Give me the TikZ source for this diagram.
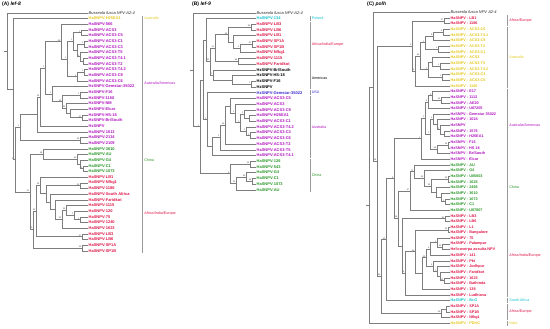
\documentclass[tikz,border=0pt]{standalone}
\usepackage{fontspec}
\setmainfont{Liberation Sans}
\usepackage{tikz}
\usetikzlibrary{calc}
\definecolor{ausY}{RGB}{228,200,30}
\definecolor{amP}{RGB}{176,20,190}
\definecolor{chnG}{RGB}{40,150,40}
\definecolor{afrR}{RGB}{222,22,72}
\definecolor{polC}{RGB}{20,195,205}
\definecolor{usaB}{RGB}{55,40,205}
\definecolor{treeG}{RGB}{125,125,125}

\tikzset{
  branch/.style={draw=treeG, line width=0.35pt},
  leaf/.style={anchor=west, inner sep=0.5pt, font=\fontsize{4}{4}\selectfont\bfseries},
  leafc/.style={leaf, font=\fontsize{3.8}{4}\selectfont\bfseries},
  outgroup/.style={anchor=west, inner sep=0.5pt, font=\fontsize{4}{4}\selectfont\itshape, text=black!85},
  boot/.style={anchor=south east, inner sep=0.2pt, xshift=-0.3pt, font=\fontsize{2.2}{2.2}\selectfont, text=black!70},
  region/.style={anchor=west, inner sep=0pt, font=\fontsize{3.7}{4}\selectfont},
  bracket/.style={draw=black!40, line width=0.35pt},
  paneltitle/.style={anchor=west, inner sep=0pt, font=\fontsize{5}{5}\selectfont\bfseries}
}

% clade: name, x, first child, second child, support value
\newcommand{\treeclade}[5]{%
  \coordinate (#1m) at ($(#3)!.5!(#4)$);
  \coordinate (#1) at (#2,0 |- #1m);
  \draw[branch] (#1) |- (#3) (#1) |- (#4);
  \node[boot] (#1b) at (#1) {#5};}

% region bar: name, x, first row, last row, text, colour
\newcommand{\treeregion}[6]{%
  \coordinate (#1t) at (#2,{#3-0.45});
  \coordinate (#1u) at (#2,{#4+0.45});
  \draw[bracket] (#1t) -- (#1u);
  \node[region, text=#6] (#1) at ({#2+1.6},{(#3+#4)/2}) {#5};}

\begin{document}
\begin{tikzpicture}[x=1pt, y=-1pt]
\useasboundingbox (0,0) rectangle (550,329);

\node[paneltitle] (titleA) at (2,4.5) {(A) \textit{lef-8}};
\node[paneltitle] (titleB) at (192,4.5) {(B) \textit{lef-9}};
\node[paneltitle] (titleC) at (367,4.5) {(C) \textit{polh}};

% ---------------- (A) lef-8
\begin{scope}[yshift=-12.7pt, y=-5.667pt]
\node[outgroup] (a0) at (88,0) {Busseola fusca NPV-A2-4};
\foreach \i/\t/\c in {1/HaSNPV-H25EA1/ausY, 2/HaSNPV-566/amP, 3/HaSNPV-ACS3/amP,
    4/HaSNPV-ACS3-C5/amP, 5/HaSNPV-ACS3-C1/amP, 6/HaSNPV-ACS3-C3/amP,
    7/HaSNPV-ACS3-T5/amP, 8/HaSNPV-ACS3-T4.1/amP, 9/HaSNPV-ACS3-T2/amP,
    10/HaSNPV-ACS3-T4.2/amP, 11/HaSNPV-ACS3-C9/amP, 12/HaSNPV-ACS3-C6/amP,
    13/HzSNPV-Gemstar-35022/amP, 14/HzSNPV-F16/amP, 15/HzSNPV-1160/amP,
    16/HzSNPV-NM/amP, 17/HzSNPV-Elcar/amP, 18/HzSNPV-HS-18/amP,
    19/{HzSNPV-Br/South}/amP, 20/HzSNPV/amP, 21/HaSNPV-1613/amP,
    22/HaSNPV-2134/amP, 23/HaSNPV-2109/amP, 24/HaSNPV-3610/chnG,
    25/HaSNPV-AU/chnG, 26/HaSNPV-G4/chnG, 27/HaSNPV-C1/chnG, 28/HaSNPV-1073/chnG,
    29/HaSNPV-LB1/afrR, 30/HaSNPV-Nfkg1/afrR, 31/HaSNPV-1186/afrR,
    32/HaSNPV-South Africa/afrR, 33/HaSNPV-Faridkot/afrR, 34/HaSNPV-1115/afrR,
    35/HaSNPV-120/afrR, 36/HaSNPV-75/afrR, 37/HaSNPV-1240/afrR, 38/HaSNPV-1623/afrR,
    39/HaSNPV-LB3/afrR, 40/HaSNPV-LB6/afrR, 41/HaSNPV-SP1A/afrR, 42/HaSNPV-SP1B/afrR}
  \node[leaf, text=\c] (a\i) at (88,\i) {\t};

\treeclade{aAusB1}{81}{a3.west}{a4.west}{1}
\treeclade{aAusB3}{84}{a5.west}{a6.west}{1}
\treeclade{aAusB5}{83}{a8.west}{a9.west}{}
\treeclade{aAusB4}{80}{a7.west}{aAusB5}{1}
\treeclade{aAusB2}{77}{aAusB3}{aAusB4}{}
\treeclade{aAusB}{73}{aAusB1}{aAusB2}{1}
\treeclade{aAusC1}{84}{a10.west}{a11.west}{1}
\treeclade{aAusC}{77}{aAusC1}{a12.west}{1}
\treeclade{aAusA}{67}{aAusB}{aAusC}{1}
\treeclade{aAus}{61}{a2.west}{aAusA}{98}
\treeclade{aAm6}{82}{a18.west}{a19.west}{97}
\treeclade{aAm5}{70}{a17.west}{aAm6}{}
\treeclade{aAm4}{66}{a16.west}{aAm5}{99}
\treeclade{aAm3}{80}{a14.west}{a15.west}{1}
\treeclade{aAm2}{62}{aAm3}{aAm4}{98}
\treeclade{aAm}{52}{a13.west}{aAm2}{1}
\treeclade{aAAd}{45}{aAus}{aAm}{1}
\treeclade{aAAc}{40}{aAAd}{a20.west}{96}
\treeclade{aAAa}{37}{aAAc}{a21.west}{}
\treeclade{aAAb}{80}{a22.west}{a23.west}{99}
\treeclade{aAA}{20}{aAAa}{aAAb}{1}
\treeclade{aChA4}{83}{a27.west}{a28.west}{99}
\treeclade{aChA3}{80}{a26.west}{aChA4}{}
\treeclade{aChA2}{77}{a25.west}{aChA3}{96}
\treeclade{aChA}{43}{a24.west}{aChA2}{98}
\treeclade{aAfA11}{80}{a36.west}{a37.west}{1}
\treeclade{aAfA10}{74}{a35.west}{aAfA11}{1}
\treeclade{aAfA9}{66}{a34.west}{aAfA10}{96}
\treeclade{aAfA8}{62}{aAfA9}{a38.west}{99}
\treeclade{aAfA7}{55}{a33.west}{aAfA8}{}
\treeclade{aAfA6}{50}{a32.west}{aAfA7}{}
\treeclade{aAfA5}{80}{a30.west}{a31.west}{99}
\treeclade{aAfA4}{46}{aAfA5}{aAfA6}{}
\treeclade{aAfA3}{40}{a29.west}{aAfA4}{99}
\treeclade{aAfLB}{82}{a39.west}{a40.west}{97}
\treeclade{aAfA1}{36}{aAfA3}{aAfLB}{93}
\treeclade{aAfA2}{82}{a41.west}{a42.west}{99}
\treeclade{aAfA}{33}{aAfA1}{aAfA2}{99}
\treeclade{aCA}{30}{aChA}{aAfA}{91}
\treeclade{aN2}{15}{aAA}{aCA}{99}
\treeclade{aN1}{12.7}{a1.west}{aN2}{}
\treeclade{aR}{7}{a0.west}{aN1}{}
\coordinate (aRt) at ($(aR)+(-3pt,0)$);
\draw[branch] (aR) -- (aRt);

\treeregion{aRg1}{142.5}{1}{1}{Australia}{ausY}
\treeregion{aRg2}{142.5}{2}{23}{Australia/Americas}{amP}
\treeregion{aRg3}{142.5}{24}{28}{China}{chnG}
\treeregion{aRg4}{142.5}{29}{42}{Africa/India/Europe}{afrR}
\end{scope}

% ---------------- (B) lef-9
\begin{scope}[yshift=-12.7pt, y=-5.71pt]
\node[outgroup] (b0) at (256,0) {Busseola fusca NPV-A2-4};
\foreach \i/\t/\c in {1/HaSNPV-134/polC, 2/HaSNPV-LB3/afrR, 3/HaSNPV-LB6/afrR,
    4/HaSNPV-LB1/afrR, 5/HaSNPV-SP1A/afrR, 6/HaSNPV-SP1B/afrR, 7/HaSNPV-Nfkg1/afrR,
    8/HaSNPV-1115/afrR, 9/HaSNPV-Faridkot/afrR, 10/{HzSNPV-Br/South}/black,
    11/HzSNPV-HS-18/black, 12/HzSNPV-F16/black, 13/HzSNPV/black,
    14/HzSNPV-Gemstar-35022/usaB, 15/HaSNPV-ACS3-C5/amP, 16/HaSNPV-ACS3/amP,
    17/HaSNPV-ACS3-C9/amP, 18/HaSNPV-H25EA1/amP, 19/HaSNPV-ACS3-C1/amP,
    20/HaSNPV-ACS3-T4.2/amP, 21/HaSNPV-ACS3-C3/amP, 22/HaSNPV-ACS3-C6/amP,
    23/HaSNPV-ACS3-T2/amP, 24/HaSNPV-ACS3-T5/amP, 25/HaSNPV-ACS3-T4.1/amP,
    26/HaSNPV-126/chnG, 27/HaSNPV-543/chnG, 28/HaSNPV-G4/chnG, 29/HaSNPV-C1/chnG,
    30/HaSNPV-1073/chnG, 31/HaSNPV-AU/chnG}
  \node[leaf, text=\c] (b\i) at (256,\i) {\t};

\treeclade{bAfLB}{251}{b2.west}{b3.west}{85}
\treeclade{bAfSP}{252}{b5.west}{b6.west}{97}
\treeclade{bAfB4}{240}{bAfSP}{b7.west}{1}
\treeclade{bAfB3}{233}{b4.west}{bAfB4}{}
\treeclade{bAfB2}{228}{bAfLB}{bAfB3}{98}
\treeclade{bAfB9}{238}{b8.west}{b9.west}{84}
\treeclade{bAfB}{215}{bAfB2}{bAfB9}{51}
\treeclade{bAmB2}{251}{b12.west}{b13.west}{1}
\treeclade{bAmB1}{232}{b11.west}{bAmB2}{}
\treeclade{bAmB}{213}{b10.west}{bAmB1}{1}
\treeclade{bN4}{210}{bAfB}{bAmB}{82}
\treeclade{bN3}{206}{b1.west}{bN4}{}
\treeclade{bAusB9}{250}{b21.west}{b22.west}{1}
\treeclade{bAusB8}{246}{b20.west}{bAusB9}{1}
\treeclade{bAusB7a}{249}{b18.west}{b19.west}{}
\treeclade{bAusB7}{244}{b17.west}{bAusB7a}{1}
\treeclade{bAusB6}{240}{bAusB7}{bAusB8}{1}
\treeclade{bAusB5}{235}{b16.west}{bAusB6}{1}
\treeclade{bAusB4}{230}{b15.west}{bAusB5}{}
\treeclade{bAusB3}{225}{bAusB4}{b23.west}{49}
\treeclade{bAusB2}{220}{bAusB3}{b24.west}{1}
\treeclade{bAusB1}{212}{bAusB2}{b25.west}{}
\treeclade{bAusB}{207}{b14.west}{bAusB1}{1}
\treeclade{bN2}{203}{bN3}{bAusB}{}
\treeclade{bChB1}{250}{b26.west}{b27.west}{99}
\treeclade{bChB4}{252}{b29.west}{b30.west}{99}
\treeclade{bChB3}{246}{b28.west}{bChB4}{96}
\treeclade{bChB2}{236}{bChB3}{b31.west}{99}
\treeclade{bChB}{230}{bChB1}{bChB2}{9}
\treeclade{bN1}{200}{bN2}{bChB}{1}
\treeclade{bR}{193}{b0.west}{bN1}{}
\coordinate (bRt) at ($(bR)+(-3pt,0)$);
\draw[branch] (bR) -- (bRt);

\treeregion{bRg1}{310}{1}{1}{Poland}{polC}
\treeregion{bRg2}{310}{2}{9}{Africa/India/Europe}{afrR}
\treeregion{bRg3}{310}{10}{13}{Americas}{black}
\treeregion{bRg4}{310}{14}{14}{USA}{usaB}
\treeregion{bRg5}{310}{15}{25}{Australia}{amP}
\treeregion{bRg6}{310}{26}{31}{China}{chnG}
\end{scope}

% ---------------- (C) polh
\begin{scope}[yshift=-12.3pt, y=-5.65pt]
\node[outgroup] (c0) at (450,0) {Busseola fusca NPV A2-4};
\foreach \i/\t/\c in {1/HaSNPV - LB1/afrR, 2/HaSNPV - 1186/afrR,
    3/HaSNPV - ACS3-C6/ausY, 4/HaSNPV - ACS3-T4.1/ausY, 5/HaSNPV - ACS3-C9/ausY,
    6/HaSNPV - ACS3-T2/ausY, 7/HaSNPV - ACS3-C1/ausY, 8/HaSNPV - ACS3/ausY,
    9/HaSNPV - ACS3-T5/ausY, 10/HaSNPV - ACS3-T4.2/ausY, 11/HaSNPV - ACS3-C3/ausY,
    12/HaSNPV - ACS3-C5/ausY, 13/HaSNPV - 1106/ausY,
    14/HaSNPV - E17/amP, 15/HaSNPV - 1113/amP, 16/HaSNPV - AE20/amP,
    17/HaSNPV - U87205/amP, 18/HzSNPV - Gemstar 35022/amP, 19/HaSNPV - 1024/amP,
    20/HzSNPV/amP, 21/HaSNPV - 1576/amP, 22/HaSNPV - H25EA1/amP, 23/HzSNPV - F16/amP,
    24/HzSNPV - HS 18/amP, 25/{HzSNPV - Br/South}/amP, 26/HzSNPV - Elcar/amP,
    27/HaSNPV - AU/chnG, 28/HaSNPV - G4/chnG, 29/HaSNPV - U05003/chnG,
    30/HaSNPV - 1625/chnG, 31/HaSNPV - 2466/chnG, 32/HaSNPV - 3610/chnG,
    33/HaSNPV - 1073/chnG, 34/HaSNPV - C1/chnG, 35/HaSNPV - U87807/chnG,
    36/HaSNPV - LB3/afrR, 37/HaSNPV - LB6/afrR, 38/HaSNPV - L1/afrR,
    39/HaSNPV - Bangalore/afrR, 40/HaSNPV - 75/afrR, 41/HaSNPV - Palampur/afrR,
    42/Helicoverpa assulta NPV/afrR, 43/HaSNPV - 141/afrR, 44/HaSNPV - Pkt/afrR,
    45/HaSNPV - Jodhpur/afrR, 46/HaSNPV - Faridkot/afrR, 47/HaSNPV - 1623/afrR,
    48/HaSNPV - Bathinda/afrR, 49/HaSNPV - 138/afrR, 50/HaSNPV - Ludhiana/afrR,
    51/HaSNPV - Br.G/polC, 52/HaSNPV - SP1A/afrR, 53/HaSNPV - SP1B/afrR,
    54/HaSNPV - Nfkg1/afrR, 55/HaSNPV - PDKC/ausY}
  \node[leafc, text=\c] (c\i) at (450,\i) {\t};

\treeclade{cAfEu}{444}{c1.west}{c2.west}{97}
\treeclade{cY3a}{443}{c3.west}{c4.west}{8}
\treeclade{cY3}{433}{cY3a}{c5.west}{8}
\treeclade{cY4}{438}{c6.west}{c7.west}{1}
\treeclade{cY2}{425}{cY3}{cY4}{1}
\treeclade{cY6a}{440}{c9.west}{c10.west}{1}
\treeclade{cY6}{432}{c8.west}{cY6a}{}
\treeclade{cY7}{442}{c11.west}{c12.west}{1}
\treeclade{cY5}{428}{cY6}{cY7}{1}
\treeclade{cY1}{420}{cY2}{cY5}{96}
\treeclade{cYel}{415}{cY1}{c13.west}{99}
\treeclade{cTop}{412}{cAfEu}{cYel}{5}
\treeclade{cP3a}{441}{c15.west}{c16.west}{99}
\treeclade{cP3}{432}{c14.west}{cP3a}{8}
\treeclade{cP2}{428}{cP3}{c17.west}{4}
\treeclade{cP7b}{444}{c21.west}{c22.west}{}
\treeclade{cP7a}{440}{c20.west}{cP7b}{1}
\treeclade{cP7}{437}{c19.west}{cP7a}{}
\treeclade{cP6}{433}{c18.west}{cP7}{1}
\treeclade{cP8a}{448}{c23.west}{c24.west}{99}
\treeclade{cP8}{437}{cP8a}{c25.west}{98}
\treeclade{cP5}{430}{cP6}{cP8}{1}
\treeclade{cP1}{425}{cP2}{cP5}{1}
\treeclade{cPur}{421}{cP1}{c26.west}{1}
\treeclade{cCh3}{448}{c29.west}{c30.west}{99}
\treeclade{cCh6}{445}{c33.west}{c34.west}{1}
\treeclade{cCh5}{441}{c32.west}{cCh6}{}
\treeclade{cCh4}{436}{c31.west}{cCh5}{}
\treeclade{cCh2}{431}{cCh3}{cCh4}{99}
\treeclade{cCh1}{424}{c28.west}{cCh2}{99}
\treeclade{cCh0}{414}{c27.west}{cCh1}{73}
\treeclade{cChC}{410}{cCh0}{c35.west}{97}
\treeclade{cLBC}{445}{c36.west}{c37.west}{84}
\treeclade{cL1C}{448}{c38.west}{c39.west}{99}
\treeclade{cAf5b}{442}{c41.west}{c42.west}{99}
\treeclade{cAf5a}{437}{c40.west}{cAf5b}{4}
\treeclade{cAf5}{430}{cAf5a}{c43.west}{4}
\treeclade{cAf9}{444}{c47.west}{c48.west}{99}
\treeclade{cAf8}{440}{c46.west}{cAf9}{}
\treeclade{cAf7}{437}{c45.west}{cAf8}{1}
\treeclade{cAf6}{433}{c44.west}{cAf7}{6}
\treeclade{cAf4}{426}{cAf5}{cAf6}{95}
\treeclade{cAf3}{422}{cAf4}{c49.west}{}
\treeclade{cAf2}{415}{cL1C}{cAf3}{98}
\treeclade{cAf1}{405}{cAf2}{c50.west}{99}
\treeclade{cAfC}{402}{cLBC}{cAf1}{}
\treeclade{cCu}{398}{cChC}{cAfC}{98}
\treeclade{cCv}{394}{cPur}{cCu}{8}
\treeclade{cCw}{386}{cCv}{c51.west}{60}
\treeclade{cSPa}{446}{c52.west}{c53.west}{}
\treeclade{cSPC}{441}{cSPa}{c54.west}{96}
\treeclade{cCz}{381}{cCw}{cSPC}{95}
\treeclade{cCy}{377}{cTop}{cCz}{98}
\treeclade{cCx}{373}{c0.west}{cCy}{}
\treeclade{cR}{369}{cCx}{c55.west}{}
\coordinate (cRt) at ($(cR)+(-3pt,0)$);
\draw[branch] (cR) -- (cRt);

\treeregion{cRg1}{507.5}{1}{2}{Africa/Europe}{afrR}
\treeregion{cRg2}{507.5}{3}{13}{Australia}{ausY}
\treeregion{cRg3}{507.5}{14}{26}{Australia/Americas}{amP}
\treeregion{cRg4}{507.5}{27}{35}{China}{chnG}
\treeregion{cRg5}{507.5}{36}{50}{Africa/India/Europe}{afrR}
\treeregion{cRg6}{507.5}{51}{51}{South Africa}{polC}
\treeregion{cRg7}{507.5}{52}{54}{Africa/Europe}{afrR}
\treeregion{cRg8}{507.5}{55}{55}{India}{ausY}
\end{scope}
\end{tikzpicture}
\end{document}
